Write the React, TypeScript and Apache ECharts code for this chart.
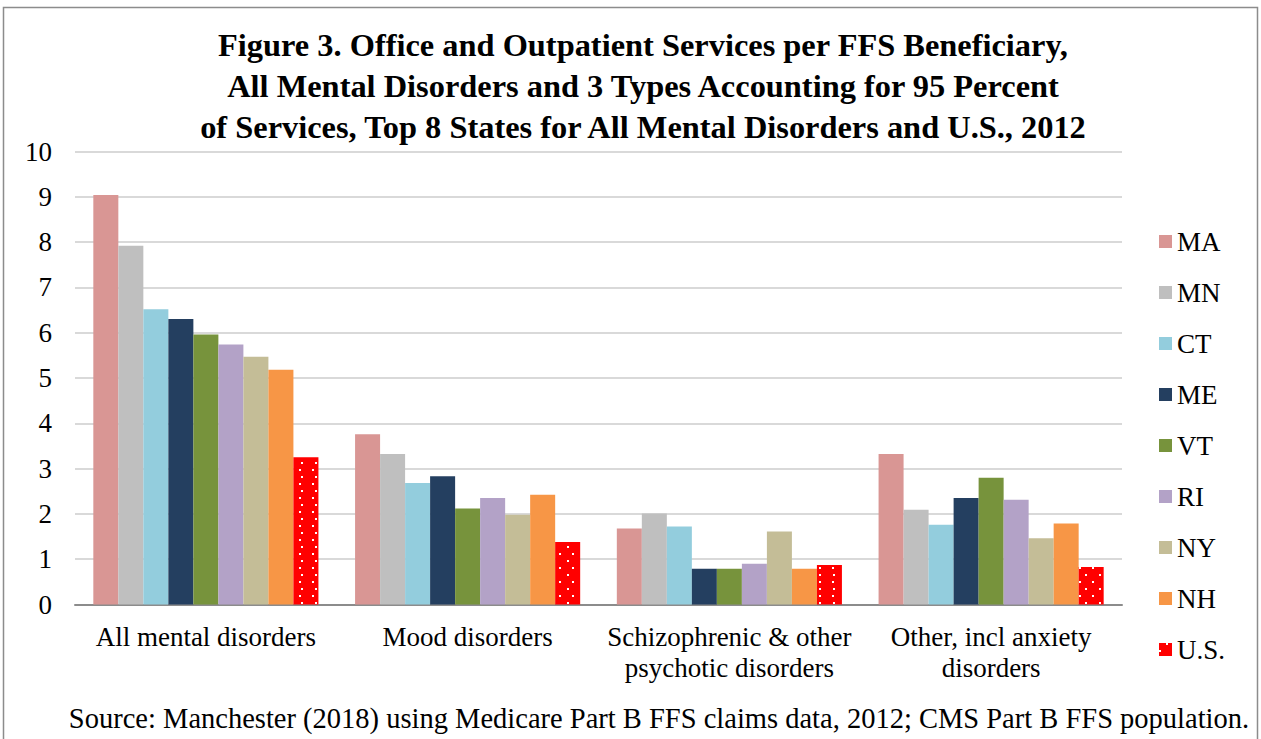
import React, { useEffect, useRef } from "react";
import * as echarts from "echarts";

const categories = [
  "All mental disorders",
  "Mood disorders",
  "Schizophrenic & other\npsychotic disorders",
  "Other, incl anxiety\ndisorders",
];
const seriesNames = ["MA", "MN", "CT", "ME", "VT", "RI", "NY", "NH", "U.S."];
const MA = [9.04, 3.76, 1.68, 3.32];
const MN = [7.92, 3.32, 2.01, 2.09];
const CT = [6.52, 2.68, 1.72, 1.76];
const ME = [6.3, 2.83, 0.79, 2.35];
const VT = [5.96, 2.12, 0.79, 2.8];
const RI = [5.74, 2.35, 0.9, 2.31];
const NY = [5.47, 1.98, 1.61, 1.46];
const NH = [5.18, 2.42, 0.79, 1.79];
const US = [3.25, 1.38, 0.87, 0.83];
const seriesValues = [MA, MN, CT, ME, VT, RI, NY, NH, US];
const colors = ["#d99694", "#bfbfbf", "#93cddd", "#243f60", "#77933c", "#b3a2c7", "#c4bd97", "#f79646", "#ff0000"];
const yTicks = [0, 1, 2, 3, 4, 5, 6, 7, 8, 9, 10];

const titleText =
  "Figure 3. Office and Outpatient Services per FFS Beneficiary,\nAll Mental Disorders and 3 Types Accounting for 95 Percent\nof Services, Top 8 States for All Mental Disorders and U.S., 2012";
const sourceText =
  "Source: Manchester (2018) using Medicare Part B FFS claims data, 2012; CMS Part B FFS population.";

const FONT = "'Liberation Serif', 'Times New Roman', serif";

export default function App() {
  const ref = useRef<HTMLDivElement>(null);
  useEffect(() => {
    if (!ref.current) return;
    const chart = echarts.init(ref.current, null, { renderer: "svg" });
    const series = seriesNames.map((name, i) => {
      const s: any = {
        name,
        type: "bar",
        data: seriesValues[i],
        barGap: "0%",
        barCategoryGap: "14%",
        itemStyle: { color: colors[i] },
      };
      if (name === "U.S.") {
        s.itemStyle.decal = {
          symbol: "rect",
          symbolSize: 1,
          color: "#ffffff",
          dashArrayX: [[2, 11], [0, 6.5, 2, 4.5]],
          dashArrayY: [2, 4.7],
          rotation: 0,
        };
      }
      return s;
    });
    chart.setOption({
      animation: false,
      backgroundColor: "#ffffff",
      textStyle: { fontFamily: FONT },
      title: {
        text: titleText,
        left: 638,
        top: 19,
        textAlign: "center",
        textStyle: {
          fontFamily: FONT,
          fontWeight: "bold",
          fontSize: 32.4,
          lineHeight: 41,
          color: "#000",
        },
      },
      legend: {
        orient: "vertical",
        left: 1159,
        top: 228,
        padding: 0,
        itemWidth: 13,
        itemHeight: 13,
        itemGap: 24,
        icon: "rect",
        textStyle: { fontFamily: FONT, fontSize: 27, lineHeight: 27, color: "#000" },
        data: seriesNames,
      },
      grid: { left: 75, right: 139, top: 151.5, bottom: 134.5, containLabel: false },
      xAxis: {
        type: "category",
        data: categories,
        axisLine: { show: true, lineStyle: { color: "#8c8c8c", width: 2 } },
        axisTick: { show: false },
        axisLabel: {
          fontFamily: FONT,
          fontSize: 27,
          color: "#000",
          lineHeight: 31,
          margin: 17,
          interval: 0,
        },
      },
      yAxis: {
        type: "value",
        min: 0,
        max: 10,
        interval: 1,
        axisLine: { show: false },
        axisTick: { show: false },
        splitLine: { lineStyle: { color: "#d9d9d9", width: 2 } },
        axisLabel: {
          fontFamily: FONT,
          fontSize: 27,
          color: "#000",
          margin: 23,
          formatter: (v: number) => (yTicks.includes(v) ? String(v) : ""),
        },
      },
      graphic: [
        {
          type: "rect",
          shape: { x: 3.5, y: 7.5, width: 1254, height: 740 },
          style: { fill: "none", stroke: "#8c8c8c", lineWidth: 1.5 },
          silent: true,
        },
        {
          type: "text",
          x: 659,
          y: 718,
          style: {
            text: sourceText,
            fontFamily: FONT,
            fontSize: 28.5,
            fill: "#000",
            textAlign: "center",
            textVerticalAlign: "middle",
          },
        },
      ],
      series,
    });
    return () => chart.dispose();
  }, []);
  return (
    <div
      ref={ref}
      style={{ position: "fixed", left: 0, top: 0, width: 1261, height: 739 }}
    />
  );
}
